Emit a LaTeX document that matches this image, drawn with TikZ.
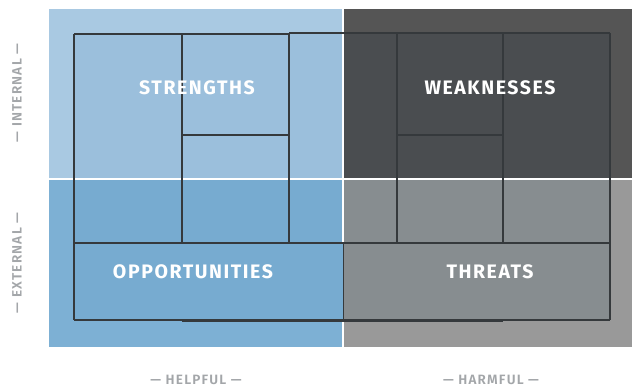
\documentclass[tikz,border=0pt]{standalone}
\usepackage{fontspec}
\setmainfont{Fira Sans}
\newfontfamily\qfont[LetterSpace=8]{Fira Sans Bold}
\newfontfamily\lfont[LetterSpace=9]{Fira Sans SemiBold}
\definecolor{tlout}{HTML}{A9C9E2}
\definecolor{tlin}{HTML}{9BBFDC}
\definecolor{trout}{HTML}{555555}
\definecolor{trin}{HTML}{4A4D50}
\definecolor{blout}{HTML}{7DB0D4}
\definecolor{blin}{HTML}{77ABD0}
\definecolor{brout}{HTML}{999999}
\definecolor{brin}{HTML}{878D90}
\definecolor{gridline}{HTML}{35393C}
\definecolor{axlab}{HTML}{A3A6A9}
\tikzset{
  quadlabel/.style={text=white, font=\qfont\fontsize{19.5}{19.5}\selectfont, inner sep=0pt},
  axislabel/.style={text=axlab, font=\lfont\fontsize{13.5}{13.5}\selectfont, inner sep=0pt},
  gl/.style={draw=gridline, line width=1.1pt},
  glthick/.style={draw=gridline, line width=2pt},
}
\begin{document}
\begin{tikzpicture}[x=1pt,y=-1pt]
\useasboundingbox (0,0) rectangle (632,389);
\fill[white] (0,0) rectangle (632,389);
% quadrant outer fills
\fill[tlout] (49,9) rectangle (343,178.5);
\fill[trout] (343,9) rectangle (632,178.5);
\fill[blout] (49,178.5) rectangle (343,347);
\fill[brout] (343,178.5) rectangle (632,347);
% inner shaded areas
\fill[tlin] (74,34) rectangle (343,178.5);
\fill[trin] (343,33) rectangle (610,178.5);
\fill[blin] (74,178.5) rectangle (343,320);
\fill[brin] (343,178.5) rectangle (610,320);
% white gaps
\draw[white, line width=1.8pt] (49,178.8) -- (632,178.8);
\draw[white, line width=1.8pt] (343,9) -- (343,243);
\draw[white, line width=1.8pt] (343,320) -- (343,347);
% grid lines
\draw[gl] (74,34) -- (289,34);
\draw[gl] (289,33) -- (610,33);
\draw[gl] (182,34) -- (182,243);
\draw[gl] (289,33) -- (289,243);
\draw[gl] (182,135) -- (289,135);
\draw[gl] (397,33) -- (397,243);
\draw[gl] (503,33) -- (503,243);
\draw[gl] (397,135) -- (503,135);
\draw[gl] (74,243) -- (610,243);
\draw[gl, line width=0.6pt] (343,243) -- (343,320);
\draw[glthick, line width=1.5pt] (74,34) -- (74,320);
\draw[gl] (74,320) -- (610,320);
\draw[glthick] (182,320.5) -- (503,320.5);
\draw[glthick] (610,33) -- (610,320);
% quadrant labels
\node[quadlabel] (s) at (197,88) {STRENGTHS};
\node[quadlabel] (w) at (490,88) {WEAKNESSES};
\node[quadlabel] (o) at (193,272) {OPPORTUNITIES};
\node[quadlabel] (t) at (490,272) {THREATS};
% axis labels
\node[axislabel, rotate=90] (int) at (17,93) {— INTERNAL —};
\node[axislabel, rotate=90] (ext) at (17,263) {— EXTERNAL —};
\node[axislabel] (help) at (196,380) {— HELPFUL —};
\node[axislabel] (harm) at (491,380) {— HARMFUL —};
\end{tikzpicture}
\end{document}
